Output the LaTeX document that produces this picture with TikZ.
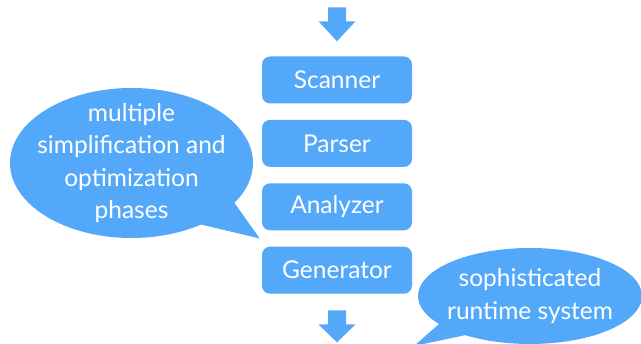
\documentclass[tikz,border=0pt]{standalone}
\usepackage{fontspec}
\setmainfont{Lato}
\usetikzlibrary{calc}
\usetikzlibrary{positioning}
\usetikzlibrary{shapes.callouts}

\definecolor{phaseblue}{RGB}{84,168,250}

\begin{document}
\begin{tikzpicture}[x=1pt, y=-1pt, every node/.style={text=white, font=\fontsize{24.5}{32.5}\selectfont}]
\tikzset{phase/.style={rectangle,rounded corners=8pt,fill=phaseblue,minimum width=150pt,minimum height=47pt}}
\tikzset{bubble/.style={ellipse callout,fill=phaseblue,align=center,inner sep=-10pt}}

\useasboundingbox (0,0) rectangle (641,344);

% compiler phases
\node[phase] (scanner) at (337,80) {Scanner};
\node[phase, below=16pt of scanner] (parser) {Parser};
\node[phase, below=16pt of parser] (analyzer) {Analyzer};
\node[phase, below=16pt of analyzer] (generator) {Generator};

% block arrows - in and out
\coordinate (intip) at ($(scanner.north)+(0,-15)$);
\fill[phaseblue] (intip) -- ++(-18.5,-20) -- ++(9.5,0) -- ++(0,-14) -- ++(18,0) -- ++(0,14) -- ++(9.5,0) -- cycle;
\coordinate (outtop) at ($(generator.south)+(0,16.5)$);
\fill[phaseblue] (outtop) ++(-9,0) -- ++(0,14) -- ++(-9.5,0) -- ++(18.5,18) -- ++(18.5,-18) -- ++(-9.5,0) -- ++(0,-14) -- cycle;

% speech bubbles
\coordinate (opttip) at ($(analyzer.south west)!.5!(generator.north west)+(-2,0)$);
\node[bubble, minimum width=243pt, minimum height=150pt, callout absolute pointer=(opttip), callout pointer arc=23] (optbubble) at (131.5,163) {multiple\\simplification and\\optimization\\phases};

\coordinate (runtimetip) at (414,346);
\node[bubble, minimum width=224pt, minimum height=96pt, callout absolute pointer=(runtimetip), callout pointer arc=19] (runtimebubble) at (530,296) {sophisticated\\runtime system};

\end{tikzpicture}
\end{document}
